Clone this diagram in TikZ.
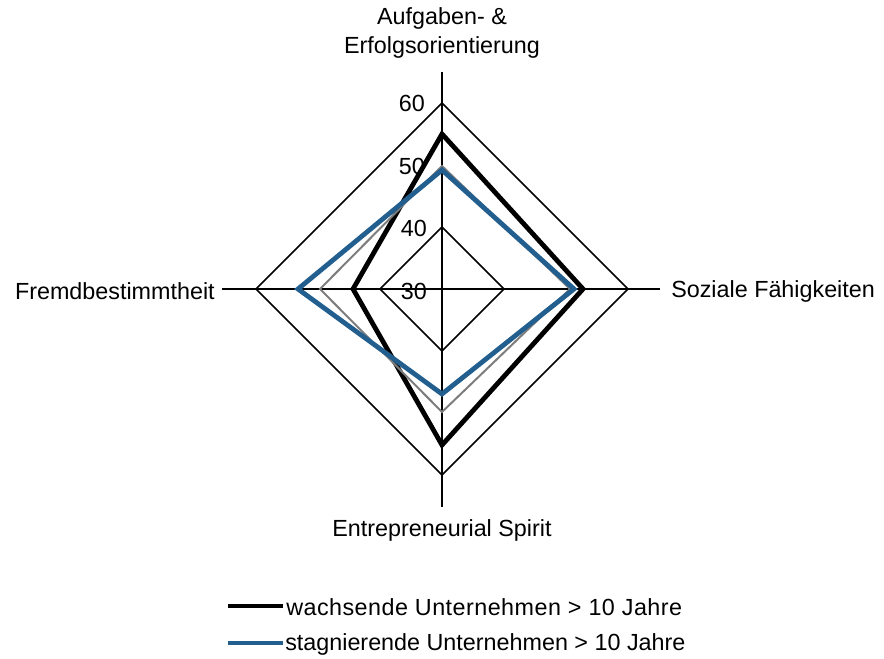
\documentclass[tikz,border=0pt]{standalone}
\usepackage{fontspec}
\setmainfont{Liberation Sans}
\definecolor{serblue}{RGB}{34,94,142}
\definecolor{sergray}{RGB}{125,125,125}
\begin{document}
\begin{tikzpicture}[x=0.75pt,y=-0.75pt,
  lbl/.style={inner sep=0pt,font=\fontsize{17.5}{21.75}\selectfont},
  gridline/.style={line width=1.1pt,black},
  blackser/.style={line width=3.6pt,black,line join=miter},
  grayser/.style={line width=1.5pt,sergray,line join=miter},
  blueser/.style={line width=3.6pt,serblue,line join=miter}]
\useasboundingbox (0,0) rectangle (884,659);
% centre and grid
\coordinate (C) at (442,289);
\coordinate (axT) at (442,72);
\coordinate (axB) at (442,507);
\coordinate (axL) at (222,289);
\coordinate (axR) at (660,289);
\draw[gridline] (axT) -- (axB);
\draw[gridline] (axL) -- (axR);
\coordinate (o1) at (442,103); \coordinate (o2) at (628,289);
\coordinate (o3) at (442,475); \coordinate (o4) at (256,289);
\draw[gridline] (o1) -- (o2) -- (o3) -- (o4) -- cycle;
\coordinate (i1) at (442,227); \coordinate (i2) at (504,289);
\coordinate (i3) at (442,351); \coordinate (i4) at (380,289);
\draw[gridline] (i1) -- (i2) -- (i3) -- (i4) -- cycle;
% tick labels
\node[lbl,anchor=east] (t60) at (425,103) {60};
\node[lbl,anchor=east] (t50) at (425,166) {50};
\node[lbl,anchor=east] (t40) at (427,228) {40};
\node[lbl,anchor=east] (t30) at (427,291) {30};
% series
\coordinate (k1) at (442,134); \coordinate (k2) at (583,289);
\coordinate (k3) at (442,445); \coordinate (k4) at (353,289);
\draw[blackser] (k1) -- (k2) -- (k3) -- (k4) -- cycle;
\coordinate (g1) at (442,166); \coordinate (g2) at (570,289);
\coordinate (g3) at (442,412); \coordinate (g4) at (320,289);
\draw[grayser] (g1) -- (g2) -- (g3) -- (g4) -- cycle;
\coordinate (b1) at (442,170); \coordinate (b2) at (574,289);
\coordinate (b3) at (442,394); \coordinate (b4) at (298,289);
\draw[blueser] (b1) -- (b2) -- (b3) -- (b4) -- cycle;
% axis labels
\node[lbl,align=center] (aufg) at (442,33) {Aufgaben- \&\\Erfolgsorientierung};
\node[lbl,anchor=west] (soz) at (671,291) {Soziale Fähigkeiten};
\node[lbl,anchor=east] (fremd) at (215,291) {Fremdbestimmtheit};
\node[lbl] (entre) at (442,530) {Entrepreneurial Spirit};
% legend
\coordinate (l1a) at (228,606); \coordinate (l1b) at (283,606);
\draw[blackser,line cap=butt] (l1a) -- (l1b);
\node[lbl,anchor=west] (leg1) at (286,607) {\addfontfeature{LetterSpace=2}wachsende Unternehmen > 10 Jahre};
\coordinate (l2a) at (228,643); \coordinate (l2b) at (283,643);
\draw[blueser,line cap=butt] (l2a) -- (l2b);
\node[lbl,anchor=west] (leg2) at (285,644) {stagnierende Unternehmen > 10 Jahre};
\end{tikzpicture}
\end{document}
